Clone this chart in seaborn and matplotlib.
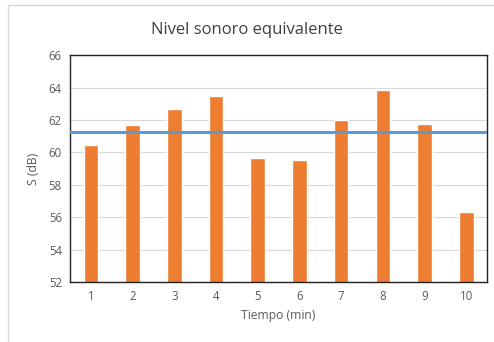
import matplotlib
matplotlib.use("Agg")
import matplotlib.pyplot as plt
import seaborn as sns
import pandas as pd
from matplotlib.lines import Line2D

tiempo = ["1", "2", "3", "4", "5", "6", "7", "8", "9", "10"]
nivel = [60.47, 61.7, 62.7, 63.5, 59.66, 59.5, 62.0, 63.85, 61.76, 56.35]
promedio = 61.28
yticks = [52, 54, 56, 58, 60, 62, 64, 66]

sns.set_theme(style="white")
plt.rcParams['font.family'] = ['Open Sans', 'DejaVu Sans']

df = pd.DataFrame({"Tiempo": tiempo, "Nivel": nivel})

fig = plt.figure(figsize=(4.94, 3.42), dpi=100)
ax = fig.add_axes([0.142, 0.175, 0.844, 0.664])

sns.barplot(data=df, x="Tiempo", y="Nivel", color="#ED7D31", saturation=1,
            width=0.35, ax=ax, zorder=2)
ax.axhline(promedio, color="#5B9BD5", lw=2.2, zorder=3)

ax.set_ylim(52, 66)
ax.set_xlim(-0.5, 9.5)
ax.set_yticks(yticks)
ax.yaxis.grid(True, color="#D9D9D9", lw=0.9, zorder=0)
ax.set_axisbelow(True)
for s in ax.spines.values():
    s.set_visible(True)
    s.set_color("#222222")
    s.set_linewidth(1.0)
ax.tick_params(axis="both", length=0, labelsize=8.3, labelcolor="#595959", pad=6)
ax.set_xlabel("Tiempo (min)", fontsize=8.7, color="#595959", labelpad=4)
ax.set_ylabel("S (dB)", fontsize=8.7, color="#595959", labelpad=6)
fig.suptitle("Nivel sonoro equivalente", fontsize=12, color="#404040", y=0.935)

# outer frame: only top and left edges visible in the reference
fig.lines.append(Line2D([7.5/494, 493/494], [1 - 5/342, 1 - 5/342],
                        transform=fig.transFigure, color="#D9D9D9", lw=1.0))
fig.lines.append(Line2D([7.5/494, 7.5/494], [0, 1 - 5/342],
                        transform=fig.transFigure, color="#D9D9D9", lw=1.0))

fig.savefig("out.png", dpi=100)
